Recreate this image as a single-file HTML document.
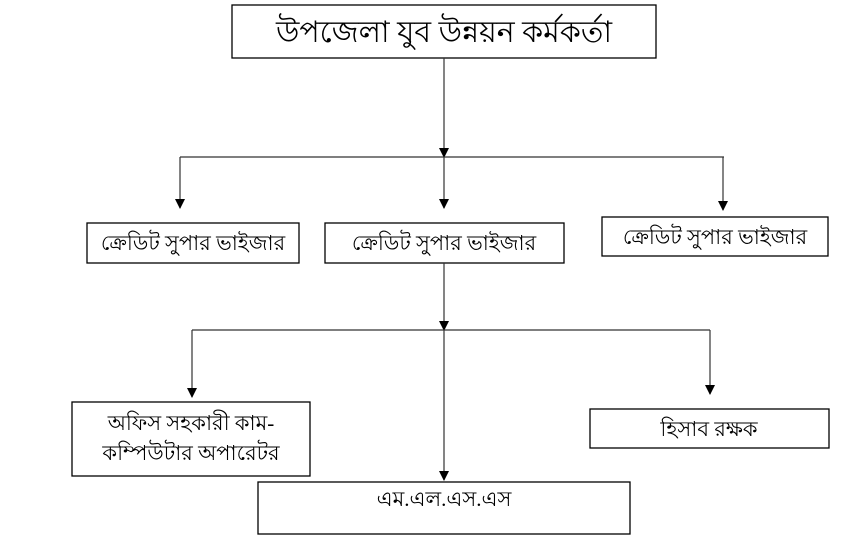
<!DOCTYPE html>
<html><head><meta charset="utf-8"><style>
body{margin:0;background:#fff;width:853px;height:544px;overflow:hidden}
svg{display:block}
text{font-family:"Liberation Serif","Noto Sans CJK SC",serif;fill:#000}
</style></head><body>
<svg width="853" height="544" viewBox="0 0 853 544" xmlns="http://www.w3.org/2000/svg">
<defs><marker id="a" markerWidth="10" markerHeight="10" refX="9" refY="5" orient="auto" markerUnits="userSpaceOnUse"><path d="M0,0 L10,5 L0,10 z" fill="#000"/></marker></defs>
<g fill="none" stroke="#000" stroke-width="1.3">
<rect x="232" y="5" width="424" height="53"/>
<rect x="87" y="223" width="212" height="40"/>
<rect x="325" y="223" width="239" height="40"/>
<rect x="602" y="217" width="226" height="39"/>
<rect x="72" y="402" width="238" height="74"/>
<rect x="590" y="409" width="239" height="39"/>
<rect x="258" y="482" width="372" height="52"/>
</g>
<g stroke="#333" stroke-width="1.2" fill="none">
<line x1="444" y1="58" x2="444" y2="157" marker-end="url(#a)"/>
<line x1="180" y1="157" x2="724" y2="157"/>
<line x1="180" y1="157" x2="180" y2="208" marker-end="url(#a)"/>
<line x1="444" y1="157" x2="444" y2="208" marker-end="url(#a)"/>
<line x1="723" y1="157" x2="723" y2="210" marker-end="url(#a)"/>
<line x1="444" y1="263" x2="444" y2="330" marker-end="url(#a)"/>
<line x1="192" y1="330" x2="710" y2="330"/>
<line x1="192" y1="330" x2="192" y2="397" marker-end="url(#a)"/>
<line x1="444" y1="330" x2="444" y2="480" marker-end="url(#a)"/>
<line x1="710" y1="330" x2="710" y2="394" marker-end="url(#a)"/>
</g>
<g text-anchor="middle">
<text x="444" y="42" font-size="30">উপজেলা যুব উন্নয়ন কর্মকর্তা</text>
<text x="193" y="250" font-size="21">ক্রেডিট সুপার ভাইজার</text>
<text x="444" y="250" font-size="21">ক্রেডিট সুপার ভাইজার</text>
<text x="715" y="244" font-size="21">ক্রেডিট সুপার ভাইজার</text>
<text x="191" y="430" font-size="21">অফিস সহকারী কাম-</text>
<text x="191" y="460" font-size="21">কম্পিউটার অপারেটর</text>
<text x="709" y="436" font-size="21">হিসাব রক্ষক</text>
<text x="444" y="506" font-size="21">এম.এল.এস.এস</text>
</g>
</svg>
</body></html>
